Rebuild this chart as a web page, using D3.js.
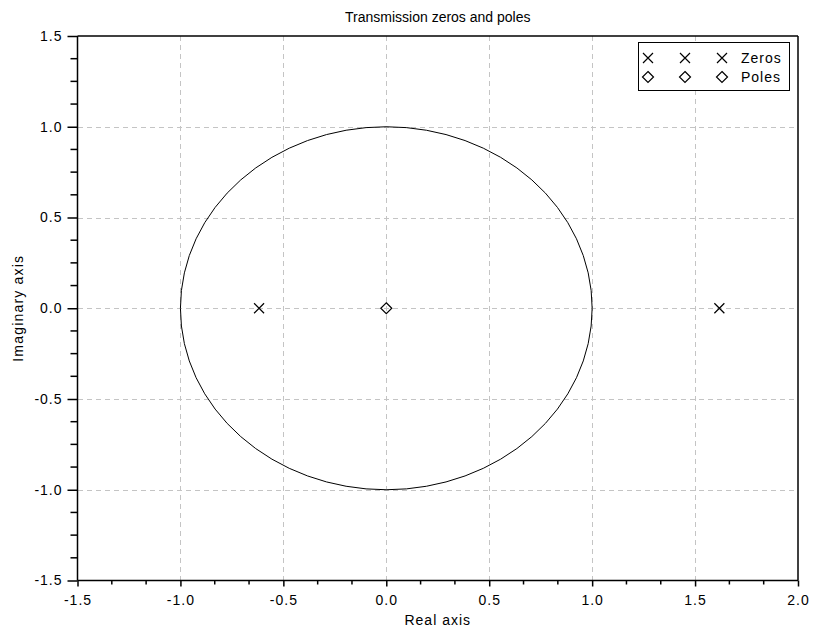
<!DOCTYPE html>
<html>
<head>
<meta charset="utf-8">
<script src="https://cdn.jsdelivr.net/npm/d3@7"></script>
<style>
  html, body { margin: 0; padding: 0; background: #fff; }
  svg { display: block; }
  text { font-family: "Liberation Sans", Arial, sans-serif; fill: #000; }
</style>
</head>
<body>
<svg id="chart" width="813" height="634"></svg>
<script>
// Transmission zeros (real parts, imaginary parts) and poles
const zerosRe = [-0.618, 1.618];
const zerosIm = [0, 0];
const polesRe = [0];
const polesIm = [0];
// unit circle radius
const circleRadius = [1];

// axis ticks
const xTicks = [-1.5, -1.0, -0.5, 0.0, 0.5, 1.0, 1.5, 2.0];
const yTicks = [-1.5, -1.0, -0.5, 0.0, 0.5, 1.0, 1.5];
const xMinorSub = 3;   // sub-intervals between major x ticks
const yMinorSub = 4;   // sub-intervals between major y ticks

const titleText = "Transmission zeros and poles";
const xLabel = "Real axis";
const yLabel = "Imaginary axis";
const legendLabels = ["Zeros", "Poles"];

const svg = d3.select("#chart");
const L = 77.5, R = 798, T = 36, B = 580.5;

const x = d3.scaleLinear().domain([-1.5, 2.0]).range([L, R]);
const y = d3.scaleLinear().domain([-1.5, 1.5]).range([B, T]);

function minorTicks(major, sub) {
  const out = [];
  for (let i = 0; i < major.length - 1; i++) {
    const step = (major[i + 1] - major[i]) / sub;
    for (let k = 1; k < sub; k++) out.push(major[i] + k * step);
  }
  return out;
}

// grid
const grid = svg.append("g").attr("stroke", "#c4c4c4").attr("stroke-width", 1)
  .attr("stroke-dasharray", "5,4").attr("shape-rendering", "crispEdges");
grid.selectAll("line.gx").data(xTicks.slice(1, -1)).join("line")
  .attr("x1", d => Math.round(x(d)) + 0.5).attr("x2", d => Math.round(x(d)) + 0.5)
  .attr("y1", T).attr("y2", B);
grid.selectAll("line.gy").data(yTicks.slice(1, -1)).join("line")
  .attr("y1", d => Math.round(y(d)) + 0.5).attr("y2", d => Math.round(y(d)) + 0.5)
  .attr("x1", L).attr("x2", R);

// unit circle (ellipse in screen space because scales differ)
svg.selectAll("ellipse.uc").data(circleRadius).join("ellipse")
  .attr("cx", x(0)).attr("cy", y(0))
  .attr("rx", r => x(r) - x(0)).attr("ry", r => y(0) - y(r))
  .attr("fill", "none").attr("stroke", "#000").attr("stroke-width", 1);

// frame top & right
svg.append("line").attr("x1", L).attr("x2", R).attr("y1", T).attr("y2", T)
  .attr("stroke", "#000").attr("stroke-width", 1.5);
svg.append("line").attr("x1", R).attr("x2", R).attr("y1", T).attr("y2", B)
  .attr("stroke", "#000").attr("stroke-width", 1.5);

// x axis
const xAxis = d3.axisBottom(x).tickValues(xTicks).tickSize(6).tickPadding(9)
  .tickFormat(d3.format(".1f"));
const gx = svg.append("g").attr("transform", `translate(0,${B})`).call(xAxis);
gx.selectAll(".tick line").attr("stroke", "#000").attr("stroke-width", 1.5);
gx.select(".domain").attr("stroke", "#000").attr("stroke-width", 1.5);
gx.selectAll(".tick text").attr("font-size", 14).attr("letter-spacing", 1)
  .attr("font-family", "'Liberation Sans', Arial, sans-serif").text(d => d3.format(".1f")(d).replace("−", "-"));
gx.selectAll("line.minor").data(minorTicks(xTicks, xMinorSub)).join("line")
  .attr("x1", d => x(d)).attr("x2", d => x(d)).attr("y1", 0).attr("y2", 4)
  .attr("stroke", "#000").attr("stroke-width", 1.5);

// y axis
const yAxis = d3.axisLeft(y).tickValues(yTicks).tickSize(10).tickPadding(5)
  .tickFormat(d3.format(".1f"));
const gy = svg.append("g").attr("transform", `translate(${L},0)`).call(yAxis);
gy.selectAll(".tick line").attr("stroke", "#000").attr("stroke-width", 1.5);
gy.select(".domain").attr("stroke", "#000").attr("stroke-width", 1.5);
gy.selectAll(".tick text").attr("font-size", 14).attr("letter-spacing", 1)
  .attr("font-family", "'Liberation Sans', Arial, sans-serif").text(d => d3.format(".1f")(d).replace("−", "-"));
gy.selectAll("line.minor").data(minorTicks(yTicks, yMinorSub)).join("line")
  .attr("y1", d => y(d)).attr("y2", d => y(d)).attr("x1", 0).attr("x2", -7)
  .attr("stroke", "#000").attr("stroke-width", 1.5);
gx.selectAll("path.domain").attr("d", `M${L},0H${R}`);
gy.selectAll("path.domain").attr("d", `M0,${B}V${T}`);

// markers
function crossPath(s) { return `M${-s},${-s}L${s},${s}M${-s},${s}L${s},${-s}`; }
function diamondPath(s) { return `M0,${-s}L${s},0L0,${s}L${-s},0Z`; }

const zeros = zerosRe.map((re, i) => ({ re, im: zerosIm[i] }));
const poles = polesRe.map((re, i) => ({ re, im: polesIm[i] }));

svg.selectAll("path.zero").data(zeros).join("path")
  .attr("transform", d => `translate(${x(d.re)},${y(d.im)})`)
  .attr("d", crossPath(5)).attr("stroke", "#000").attr("stroke-width", 1.2).attr("fill", "none");
svg.selectAll("path.pole").data(poles).join("path")
  .attr("transform", d => `translate(${x(d.re)},${y(d.im)})`)
  .attr("d", diamondPath(5.5)).attr("stroke", "#000").attr("stroke-width", 1.2).attr("fill", "none");

// title and axis labels
svg.append("text").attr("x", (L + R) / 2).attr("y", 22).attr("text-anchor", "middle")
  .attr("font-family", "'DejaVu Sans', Verdana, sans-serif").attr("font-size", 14)
  .text(titleText);
svg.append("text").attr("x", (L + R) / 2).attr("y", 625).attr("text-anchor", "middle")
  .attr("font-size", 14).attr("letter-spacing", 1).text(xLabel);
svg.append("text").attr("transform", `translate(23,${(T + B) / 2}) rotate(-90)`)
  .attr("text-anchor", "middle").attr("font-size", 14).attr("letter-spacing", 1.2).text(yLabel);

// legend
const lg = svg.append("g");
const lgX0 = 638, lgX1 = 789, lgY0 = 42, lgY1 = 90;
lg.append("rect").attr("x", lgX0 + 0.5).attr("y", lgY0 + 0.5)
  .attr("width", lgX1 - lgX0).attr("height", lgY1 - lgY0)
  .attr("fill", "#fff").attr("stroke", "#000").attr("stroke-width", 1);
const rowsY = [58, 77];
const sampleX = [648, 685, 722];
const shapes = [crossPath(5), diamondPath(5.5)];
legendLabels.forEach((lab, i) => {
  lg.selectAll(null).data(sampleX).join("path")
    .attr("transform", sx => `translate(${sx},${rowsY[i]})`)
    .attr("d", shapes[i]).attr("stroke", "#000").attr("stroke-width", 1.2).attr("fill", "none");
  lg.append("text").attr("x", 741).attr("y", rowsY[i] + 5)
    .attr("font-size", 14).attr("letter-spacing", 1).text(lab);
});
</script>
</body>
</html>
